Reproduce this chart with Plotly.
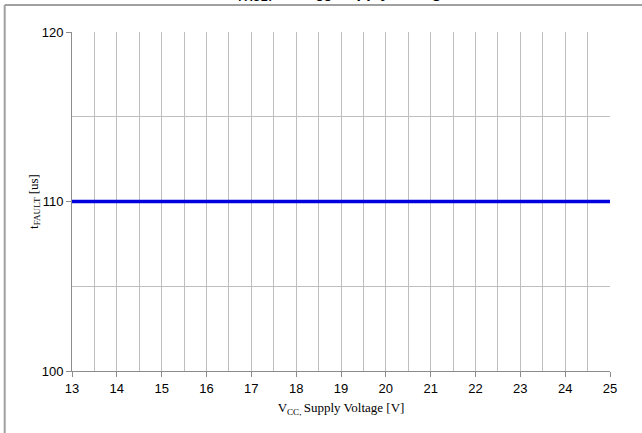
import plotly.graph_objects as go

voltage = [13, 14, 15, 16, 17, 18, 19, 20, 21, 22, 23, 24, 25]
t_fault = [110, 110, 110, 110, 110, 110, 110, 110, 110, 110, 110, 110, 110]
x_ticks = [13, 14, 15, 16, 17, 18, 19, 20, 21, 22, 23, 24, 25]
y_ticks = [100, 110, 120]

fig = go.Figure()
fig.add_trace(go.Scatter(x=voltage, y=t_fault, mode="lines",
                         line=dict(color="#0000DD", width=3.5), showlegend=False,
                         cliponaxis=False))

grid = "#BEBEBE"
axis_col = "#8C8C8C"
frame_col = "#A0A0A0"
nbsp = "\u00a0"
fig.update_layout(
    width=642, height=433,
    margin=dict(l=72, r=32, t=32, b=62, autoexpand=False),
    paper_bgcolor="white", plot_bgcolor="white",
    font=dict(family="Liberation Sans, Arial, sans-serif", size=13, color="black"),
    xaxis=dict(range=[13, 25], tickvals=x_ticks, ticks="outside", ticklen=5,
               tickcolor=axis_col, showline=True, linecolor=axis_col, linewidth=1,
               showgrid=True, gridcolor=grid, gridwidth=1, zeroline=False,
               minor=dict(dtick=0.5, showgrid=True, gridcolor=grid, gridwidth=1),
               tickfont=dict(size=13), automargin=False,
               title=dict(text="V<sub>CC, </sub>Supply Voltage [V]", standoff=8,
                          font=dict(family="Liberation Serif, Times New Roman, serif", size=13))),
    yaxis=dict(range=[100, 120], tickvals=y_ticks, ticks="outside", ticklen=5,
               tickcolor=axis_col, showline=True, linecolor=axis_col, linewidth=1,
               showgrid=True, gridcolor=grid, gridwidth=1, zeroline=False,
               minor=dict(dtick=5, showgrid=True, gridcolor=grid, gridwidth=1),
               tickfont=dict(size=13), ticksuffix=nbsp * 3, automargin=False,
               title=dict(text="t<sub>FAULT</sub> [us]", standoff=0,
                          font=dict(family="Liberation Serif, Times New Roman, serif", size=13))),
    shapes=[
        dict(type="line", xref="paper", yref="paper",
             x0=-0.1251, x1=1.0595, y0=1.0796, y1=1.0796,
             line=dict(color=frame_col, width=2), layer="above"),
        dict(type="line", xref="paper", yref="paper",
             x0=-0.1251, x1=-0.1251, y0=1.0796, y1=-0.183,
             line=dict(color=frame_col, width=2), layer="above"),
    ],
    annotations=[
        dict(text="<b>t<sub>FAULT</sub> vs. V<sub>CC</sub> Supply Voltage</b>",
             xref="paper", yref="paper", x=0.5, y=1.115,
             xanchor="center", yanchor="middle", showarrow=False,
             font=dict(family="Liberation Sans, Arial, sans-serif", size=16, color="black")),
    ],
)
fig.write_html(
    "out.html",
    config={"displayModeBar": False},
    post_script="document.body.style.margin='0';document.body.style.padding='0';"
                "document.documentElement.style.overflow='hidden';",
)
